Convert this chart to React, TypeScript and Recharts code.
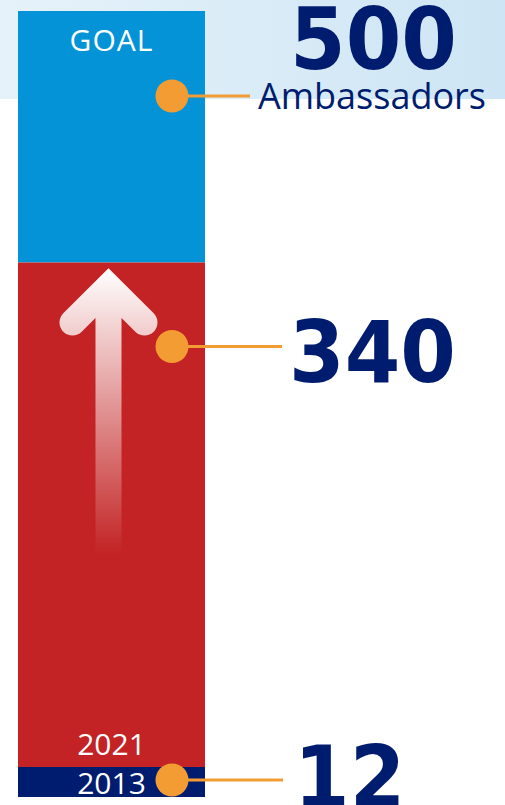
import React from 'react';
import { BarChart, Bar, XAxis, YAxis, LabelList } from 'recharts';

// milestones, bottom to top
const milestones = ['2013', '2021', 'GOAL'];
const totals = [12, 340, 500];
const unitLabel = 'Ambassadors';

const data = [
  {
    name: unitLabel,
    base: totals[0],
    growth: totals[1] - totals[0],
    goal: totals[2] - totals[1],
  },
];

const NAVY = '#001c6e';
const RED = '#c32324';
const BLUE = '#0393d6';
const ORANGE = '#f39c33';
const numFont = '"DejaVu Sans", sans-serif';
const textFont = '"Open Sans", sans-serif';

const Callout = ({ cy, lineEnd, text, textX, baseline }: any) => (
  <g>
    <line x1={172} y1={cy} x2={lineEnd} y2={cy} stroke={ORANGE} strokeWidth={3} />
    <circle cx={172} cy={cy} r={16.5} fill={ORANGE} />
    <text
      transform={`translate(${textX},${baseline}) scale(0.93,1)`}
      fill={NAVY}
      fontFamily={numFont}
      fontWeight={700}
      fontSize={86}
    >
      {text}
    </text>
  </g>
);

const GoalLabel = (props: any) => {
  const { x, y, width } = props;
  return (
    <g>
      <text x={x + width / 2} y={y + 40} textAnchor="middle" fill="#fff" fontFamily={textFont} fontSize={30} letterSpacing={1}>
        {milestones[2]}
      </text>
      <Callout cy={y + 85} lineEnd={250} text={totals[2]} textX={290} baseline={y + 58} />
      <text x={258} y={y + 98} fill={NAVY} fontFamily={textFont} fontSize={36}>
        {unitLabel}
      </text>
    </g>
  );
};

const GrowthLabel = (props: any) => {
  const { x, y, width, height } = props;
  return (
    <g>
      <text x={x + width / 2} y={y + height - 23} textAnchor="middle" fill="#fff" fontFamily={textFont} fontSize={30}>
        {milestones[1]}
      </text>
      <Callout cy={y + 84} lineEnd={282} text={totals[1]} textX={289} baseline={y + 119} />
    </g>
  );
};

const BaseLabel = (props: any) => {
  const { x, y, width, height } = props;
  return (
    <g>
      <text x={x + width / 2} y={y + 27} textAnchor="middle" fill="#fff" fontFamily={textFont} fontSize={30}>
        {milestones[0]}
      </text>
      <Callout cy={y + height / 2 - 2} lineEnd={283} text={totals[0]} textX={294} baseline={y + height / 2 + 25} />
    </g>
  );
};

// red segment with the fading up-arrow
const GrowthShape = (props: any) => {
  const { x, y, width, height } = props;
  const cx = x + width / 2 - 3;
  const top = y - 8;
  return (
    <g>
      <defs>
        <linearGradient id="arrowFade" gradientUnits="userSpaceOnUse" x1={0} y1={top + 14} x2={0} y2={top + 300}>
          <stop offset="0%" stopColor="#fff" stopOpacity={1} />
          <stop offset="55%" stopColor="#fff" stopOpacity={0.45} />
          <stop offset="100%" stopColor="#fff" stopOpacity={0} />
        </linearGradient>
      </defs>
      <rect x={x} y={y} width={width} height={height} fill={RED} />
      <path
        d={`M${cx - 36},${top + 68} L${cx},${top + 32} L${cx + 36},${top + 68} M${cx},${top + 40} L${cx},${top + 300}`}
        fill="none"
        stroke="url(#arrowFade)"
        strokeWidth={26}
        strokeLinecap="round"
        strokeLinejoin="miter"
      />
    </g>
  );
};

export default function App() {
  return (
    <div style={{ position: 'absolute', left: 0, top: 0, width: 505, height: 805, background: '#fff', overflow: 'hidden' }}>
      <div
        style={{
          position: 'absolute',
          left: 0,
          top: 0,
          width: 505,
          height: 99,
          background: 'linear-gradient(90deg, #e6f2fa 0%, #cde5f4 100%)',
        }}
      />
      <div style={{ position: 'absolute', left: 0, top: 0 }}>
        <BarChart
          width={505}
          height={805}
          data={data}
          margin={{ top: 11, right: 300, bottom: 8, left: 18 }}
          barCategoryGap={0}
          reverseStackOrder
        >
          <XAxis dataKey="name" hide />
          <YAxis hide domain={[0, totals[2]]} />
          <Bar dataKey="goal" stackId="a" fill={BLUE} isAnimationActive={false}>
            <LabelList dataKey="goal" content={GoalLabel} />
          </Bar>
          <Bar dataKey="growth" stackId="a" fill={RED} shape={GrowthShape} isAnimationActive={false}>
            <LabelList dataKey="growth" content={GrowthLabel} />
          </Bar>
          <Bar dataKey="base" stackId="a" fill={NAVY} minPointSize={30} isAnimationActive={false}>
            <LabelList dataKey="base" content={BaseLabel} />
          </Bar>
        </BarChart>
      </div>
    </div>
  );
}
